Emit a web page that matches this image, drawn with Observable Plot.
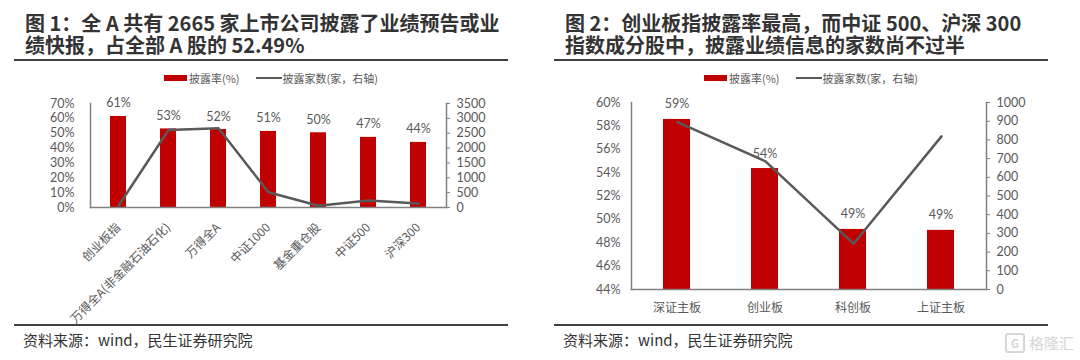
<!DOCTYPE html>
<html><head><meta charset="utf-8">
<script src="https://cdn.jsdelivr.net/npm/d3@7"></script>
<script src="https://cdn.jsdelivr.net/npm/@observablehq/plot@0.6"></script>
<style>
body{margin:0;background:#fff;}
#root{position:relative;width:1080px;height:360px;overflow:hidden;font-family:"Noto Sans CJK SC",sans-serif;background:#fff;}
.title{position:absolute;font-size:20px;font-weight:bold;line-height:20px;color:#333;white-space:nowrap;}
.rule{position:absolute;height:2px;background:#404040;width:494px;}
.legend{position:absolute;top:70px;font-size:11px;line-height:16px;color:#595959;display:flex;align-items:center;white-space:nowrap;}
.sw-bar{display:inline-block;width:23px;height:6px;background:#C00000;margin-right:2px;}
.sw-line{display:inline-block;width:26px;height:2px;background:#595959;margin-right:1px;margin-left:16px;}
.source{position:absolute;top:330px;font-size:15px;line-height:20px;color:#333;white-space:nowrap;}
.plot{position:absolute;top:0;}
.wm{position:absolute;left:1005px;top:333px;color:#d6d6d6;font-size:15px;line-height:20px;display:flex;align-items:center;}
.wm .ic{display:inline-block;width:16px;height:16px;border:2px solid #d6d6d6;border-radius:3px;margin-right:4px;font-size:11px;line-height:16px;text-align:center;font-weight:bold;}
</style></head>
<body>
<div id="root">
  <div class="title" style="left:25px;top:13px;">图 1：全 A 共有 2665 家上市公司披露了业绩预告或业</div>
  <div class="title" style="left:25px;top:35px;">绩快报，占全部 A 股的 52.49%</div>
  <div class="title" style="left:565px;top:13px;">图 2：创业板指披露率最高，而中证 500、沪深 300</div>
  <div class="title" style="left:565px;top:35px;">指数成分股中，披露业绩信息的家数尚不过半</div>
  <div class="rule" style="left:14px;top:59px;"></div>
  <div class="rule" style="left:554px;top:59px;"></div>
  <div class="legend" style="left:164px;"><span class="sw-bar"></span>披露率(%)<span class="sw-line"></span>披露家数(家，右轴)</div>
  <div class="legend" style="left:704px;"><span class="sw-bar"></span>披露率(%)<span class="sw-line"></span>披露家数(家，右轴)</div>
  <div class="rule" style="left:14px;top:324px;"></div>
  <div class="rule" style="left:554px;top:324px;"></div>
  <div class="source" style="left:23px;">资料来源：wind，民生证券研究院</div>
  <div class="source" style="left:563px;">资料来源：wind，民生证券研究院</div>
  <div class="wm"><span class="ic">G</span>格隆汇</div>
</div>
<script>
// Chart 1
const cats1 = ["创业板指", "万得全A(非金融石油石化)", "万得全A", "中证1000", "基金重仓股", "中证500", "沪深300"];
const rate1 = [0.613, 0.529, 0.5249, 0.512, 0.503, 0.472, 0.438];
const count1 = [61, 2610, 2665, 512, 60, 236, 131];
const leftTicks1 = [0, 0.1, 0.2, 0.3, 0.4, 0.5, 0.6, 0.7];
const rightTicks1 = [0, 500, 1000, 1500, 2000, 2500, 3000, 3500];
// Chart 2
const cats2 = ["深证主板", "创业板", "科创板", "上证主板"];
const rate2 = [0.5855, 0.5435, 0.4914, 0.4906];
const count2 = [895, 685, 245, 819];
const leftTicks2 = [0.44, 0.46, 0.48, 0.50, 0.52, 0.54, 0.56, 0.58, 0.60];
const rightTicks2 = [0, 100, 200, 300, 400, 500, 600, 700, 800, 900, 1000];

const RED = "#C00000", LINE = "#595959", AX = "#808080", TXT = "#595959";
const NUMFONT = 'Lato, "Noto Sans CJK SC", sans-serif';
const pct = d3.format(".0%");
const int = d3.format("d");
const root = document.getElementById("root");

function panel(cfg) {
  const data = cfg.cats.map((c, i) => ({cat: c, rate: cfg.rate[i], count: cfg.count[i]}));
  const common = {
    width: 540, height: 330,
    marginLeft: cfg.ml, marginRight: cfg.mr, marginTop: cfg.mt, marginBottom: cfg.mb,
    style: {fontFamily: '"Noto Sans CJK SC", sans-serif', fontSize: "12px", background: "transparent", overflow: "visible"}
  };
  const xs = {domain: cfg.cats, paddingInner: 0.69, paddingOuter: 0.345, label: null};
  const bars = Plot.plot({
    ...common,
    x: {...xs},
    y: {domain: cfg.yDomain, label: null},
    marks: [
      Plot.barY(data, {x: "cat", y: "rate", fill: RED, clip: true}),
      Plot.text(data, {x: "cat", y: "rate", text: d => pct(d.rate), dy: cfg.labelDy, fill: TXT, fontSize: 12.5, fontFamily: NUMFONT}),
      Plot.axisY({ticks: cfg.leftTicks, tickFormat: pct, tickSize: 0, tickPadding: cfg.leftPad, fill: TXT, fontSize: 12.5, fontFamily: NUMFONT}),
      Plot.frame({anchor: "left", stroke: AX, strokeWidth: 1.5}),
      Plot.axisX({tickSize: 0, tickPadding: cfg.xPad, tickRotate: cfg.rotate, fill: TXT, fontSize: 12}),
      Plot.frame({anchor: "bottom", stroke: AX, strokeWidth: 1.5})
    ]
  });
  const lines = Plot.plot({
    ...common,
    x: {...xs, axis: null},
    y: {domain: cfg.rDomain, label: null},
    marks: [
      Plot.line(data, {x: "cat", y: "count", stroke: LINE, strokeWidth: 2.5}),
      Plot.axisY({anchor: "right", ticks: cfg.rightTicks, tickFormat: int, tickSize: 3, tickPadding: 7, stroke: AX, fill: TXT, fontSize: 12.5, fontFamily: NUMFONT}),
      Plot.frame({anchor: "right", stroke: AX, strokeWidth: 1.5})
    ]
  });
  [bars, lines].forEach(s => {
    s.classList.add("plot");
    s.style.left = cfg.left + "px";
    root.appendChild(s);
  });
}

panel({cats: cats1, rate: rate1, count: count1, yDomain: [0, 0.7], rDomain: [0, 3500],
  leftTicks: leftTicks1, rightTicks: rightTicks1, left: 0,
  ml: 90, mr: 94, mt: 103, mb: 123, labelDy: -13, leftPad: 16, xPad: 18, rotate: -45});
panel({cats: cats2, rate: rate2, count: count2, yDomain: [0.44, 0.60], rDomain: [0, 1000],
  leftTicks: leftTicks2, rightTicks: rightTicks2, left: 540,
  ml: 91, mr: 94, mt: 102, mb: 41, labelDy: -15, leftPad: 11, xPad: 14, rotate: 0});
</script>
</body></html>
